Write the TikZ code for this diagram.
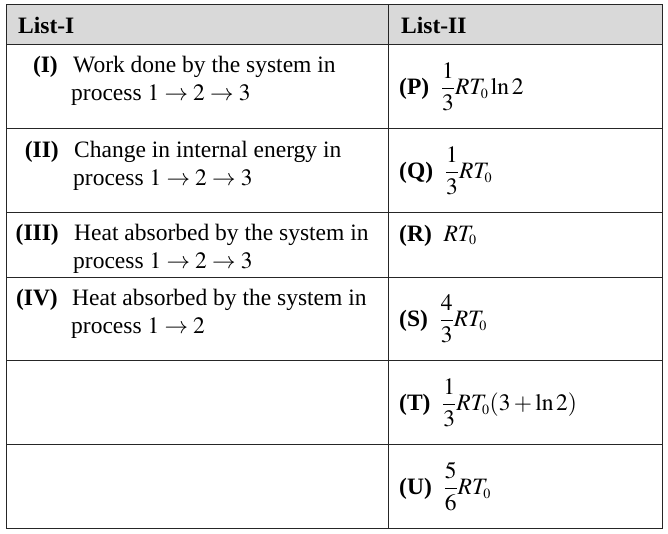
\documentclass[tikz,border=0pt]{standalone}
\usepackage{amsmath}
\usepackage{mathptmx}
\usepackage[no-math]{fontspec}
\setmainfont{Liberation Serif}
\usepackage{tikz}
\usetikzlibrary{positioning}

\newcommand{\tabfont}{\fontsize{23.5}{28}\selectfont}
\tikzset{
  rule/.style={line width=1pt,draw=black!85},
  txt/.style={inner sep=0pt,anchor=base west},
  head/.style={txt,font=\tabfont\bfseries},
  lbl/.style={inner sep=0pt,anchor=base east,font=\tabfont\bfseries},
  ans/.style={inner sep=0pt,anchor=west}
}
\newcommand{\opt}[2]{\textbf{(#1)}\hspace{0.5em}$\displaystyle #2$}
\newcommand{\Tz}{T_{\scriptscriptstyle 0}}

\begin{document}
\begin{tikzpicture}[x=1pt,y=-1pt,font=\tabfont]
   \useasboundingbox (0,0) rectangle (668,533);
   % table frame
   \fill[black!15] (6,4) rectangle (662,44);
   \draw[rule] (6,4) rectangle (662,528);
   \draw[rule] (388,4) -- (388,528);
   \foreach \y in {44,128,212,277,360,444}
      \draw[rule] (6,\y) -- (662,\y);

   % headers
   \node[head] (hI) at (18,33) {List-I};
   \node[head] (hII) at (401,33) {List-II};

   % list I
   \node[lbl] (lI) at (58,72) {(I)};
   \node[txt] (tIa) at (73,72) {Work done by the system in};
   \node[txt] (tIb) at (71,100) {process $1\rightarrow2\rightarrow3$};
   \node[lbl] (lII) at (59,157) {(II)};
   \node[txt] (tIIa) at (74,157) {Change in internal energy in};
   \node[txt] (tIIb) at (73,185) {process $1\rightarrow2\rightarrow3$};
   \node[lbl] (lIII) at (59,240) {(III)};
   \node[txt] (tIIIa) at (74,240) {Heat absorbed by the system in};
   \node[txt] (tIIIb) at (73,268) {process $1\rightarrow2\rightarrow3$};
   \node[lbl] (lIV) at (58,305) {(IV)};
   \node[txt] (tIVa) at (72,305) {Heat absorbed by the system in};
   \node[txt] (tIVb) at (71,333) {process $1\rightarrow2$};

   % list II
   \node[ans] (P) at (399,87) {\opt{P}{\frac{1}{3}R\Tz\ln 2}};
   \node[ans] (Q) at (399,171) {\opt{Q}{\frac{1}{3}R\Tz}};
   \node[txt] (R) at (399,241) {\opt{R}{R\Tz}};
   \node[ans] (S) at (399,319) {\opt{S}{\frac{4}{3}R\Tz}};
   \node[ans] (T) at (399,403) {\opt{T}{\frac{1}{3}R\Tz(3+\ln 2)}};
   \node[ans] (U) at (399,487) {\opt{U}{\frac{5}{6}R\Tz}};
\end{tikzpicture}
\end{document}
